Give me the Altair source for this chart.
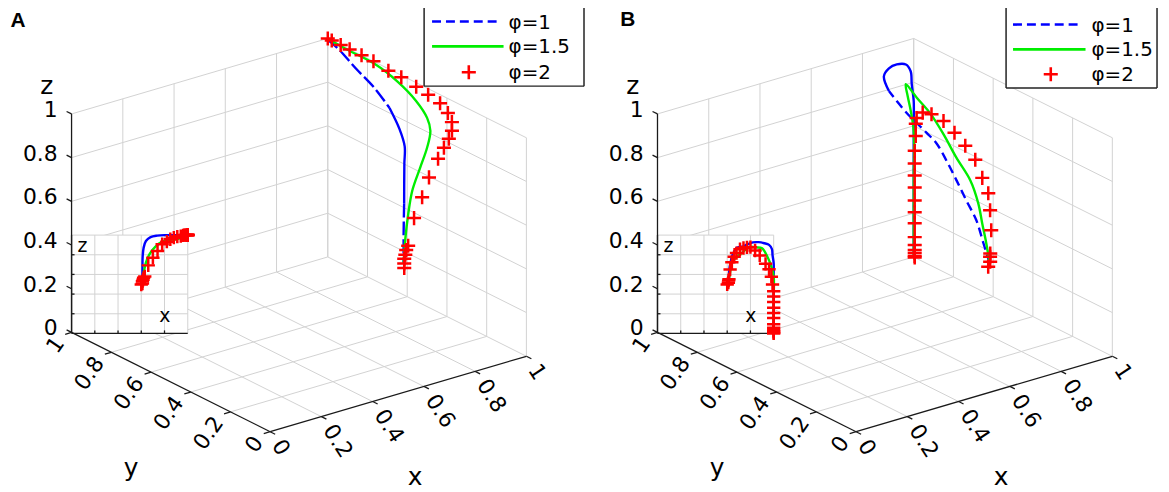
import altair as alt
import pandas as pd

# ---------------- data: 3-D trajectories (x, y, z) ----------------
SERIES = ["φ=1", "φ=1.5", "φ=2"]
TICKS = [0.0, 0.2, 0.4, 0.6, 0.8, 1.0]
TICK_LABELS = ["0", "0.2", "0.4", "0.6", "0.8", "1"]
PANELS = ["A", "B"]

A_PHI1_X = [0.995, 0.976, 0.922, 0.871, 0.81, 0.737, 0.68, 0.64, 0.62, 0.612, 0.61, 0.61]
A_PHI1_Y = [1.0, 0.918, 0.759, 0.598, 0.444, 0.30, 0.2, 0.15, 0.125, 0.115, 0.115, 0.115]
A_PHI1_Z = [1.0, 1.0, 1.0, 1.0, 1.0, 0.995, 0.98, 0.94, 0.87, 0.78, 0.65, 0.51]

A_PHI15_X = [1.0, 0.995, 0.99, 0.97, 0.94, 0.90, 0.85, 0.78, 0.72, 0.67, 0.64, 0.62, 0.61]
A_PHI15_Y = [1.0, 0.909, 0.752, 0.61, 0.478, 0.371, 0.29, 0.216, 0.174, 0.149, 0.13, 0.12, 0.115]
A_PHI15_Z = [1.0, 0.998, 1.0, 0.99, 0.972, 0.957, 0.952, 0.933, 0.88, 0.804, 0.72, 0.609, 0.51]

A_PHI2_X = [1.0, 1.0, 1.0, 1.0, 1.0, 1.0, 0.99, 0.99, 0.98, 0.97, 0.96, 0.94, 0.91,
            0.88, 0.85, 0.82, 0.78, 0.74, 0.70, 0.66, 0.63, 0.62, 0.615, 0.61, 0.61, 0.60]
A_PHI2_Y = [1.0, 0.98, 0.935, 0.89, 0.83, 0.77, 0.682, 0.617, 0.529, 0.456, 0.383, 0.318, 0.259,
            0.22, 0.197, 0.183, 0.161, 0.155, 0.138, 0.127, 0.118, 0.115, 0.113, 0.112, 0.112, 0.099]
A_PHI2_Z = [1.0, 1.0, 1.0, 1.0, 1.0, 1.0, 1.0, 1.0, 1.0, 1.0, 0.998, 0.99, 0.985,
            0.974, 0.958, 0.933, 0.907, 0.838, 0.769, 0.692, 0.58, 0.565, 0.546, 0.53, 0.508, 0.497]

B_PHI1_X = [0.61, 0.615, 0.62, 0.63, 0.64, 0.66, 0.68, 0.70, 0.72, 0.74, 0.76, 0.78,
            0.82, 0.87, 0.92, 0.96, 0.985, 0.99, 1.0, 1.0, 1.0, 1.0, 1.0]
B_PHI1_Y = [0.115, 0.153, 0.195, 0.258, 0.32, 0.396, 0.472, 0.548, 0.624, 0.70, 0.776, 0.841,
            0.918, 0.957, 0.982, 0.988, 0.996, 0.997, 1.0, 1.0, 1.0, 1.0, 1.0]
B_PHI1_Z = [0.51, 0.583, 0.666, 0.724, 0.784, 0.832, 0.87, 0.877, 0.881, 0.885, 0.899, 0.908,
            0.926, 0.928, 0.917, 0.90, 0.857, 0.796, 0.714, 0.62, 0.44, 0.26, 0.0]

B_PHI15_X = [0.61, 0.62, 0.63, 0.645, 0.68, 0.72, 0.76, 0.80, 0.85, 0.90, 0.95, 0.98, 1.0, 1.0, 1.0]
B_PHI15_Y = [0.115, 0.145, 0.178, 0.217, 0.302, 0.424, 0.54, 0.657, 0.79, 0.911, 0.966, 0.989, 1.0, 1.0, 1.0]
B_PHI15_Z = [0.51, 0.585, 0.656, 0.724, 0.778, 0.813, 0.853, 0.88, 0.875, 0.866, 0.769, 0.68, 0.577, 0.35, 0.0]

B_PHI2_X = [0.60, 0.61, 0.612, 0.615, 0.625, 0.64, 0.66, 0.68, 0.71, 0.74, 0.77, 0.80, 0.84, 0.88,
            0.93, 0.96, 0.98, 0.99, 1.0, 1.0, 1.0, 1.0, 1.0, 1.0, 1.0, 1.0, 1.0, 1.0, 1.0, 1.0]
B_PHI2_Y = [0.109, 0.112, 0.115, 0.118, 0.126, 0.151, 0.186, 0.242, 0.316, 0.405, 0.498, 0.592, 0.704, 0.80,
            0.895, 0.938, 0.964, 0.982, 0.995, 0.995, 0.995, 0.995, 0.995, 0.995, 0.995, 0.995, 0.995,
            0.995, 0.995, 0.995]
B_PHI2_Z = [0.498, 0.516, 0.537, 0.55, 0.649, 0.724, 0.779, 0.817, 0.856, 0.869, 0.876, 0.877, 0.843, 0.793,
            0.708, 0.652, 0.577, 0.498, 0.43, 0.375, 0.32, 0.261, 0.207, 0.157, 0.093, 0.057, 0.034,
            0.02, 0.007, 0.0]

TRAJ = {
    ("A", "φ=1"): (A_PHI1_X, A_PHI1_Y, A_PHI1_Z),
    ("A", "φ=1.5"): (A_PHI15_X, A_PHI15_Y, A_PHI15_Z),
    ("A", "φ=2"): (A_PHI2_X, A_PHI2_Y, A_PHI2_Z),
    ("B", "φ=1"): (B_PHI1_X, B_PHI1_Y, B_PHI1_Z),
    ("B", "φ=1.5"): (B_PHI15_X, B_PHI15_Y, B_PHI15_Z),
    ("B", "φ=2"): (B_PHI2_X, B_PHI2_Y, B_PHI2_Z),
}

# ---------------- view / layout ----------------
W, H = 1161, 482
ORIGIN = (272.0, 433.0)     # screen position of (0,0,0), panel A
EX = (258.0, -76.0)
EY = (-200.0, -100.0)
EZ = (0.0, -220.0)
SHIFT = {"A": 0.0, "B": 590.0}
INSET = (72.0, 334.0, 117.0, 99.0)   # left, bottom, width, height (panel A)
TL = 0.025
BLUE, GREEN, RED = "#0000ff", "#00ee00", "#ff0000"
GRID = "#d2d2d2"
FONT = "DejaVu Sans"
PLUS = "M-1,0L1,0M0,-1L0,1"
BLUE_SEGMENTS = {"A": [(0, 4, [14, 4]), (4, 9, None), (9, 11, [14, 4])],
                 "B": [(0, 11, [9, 5]), (11, 22, None)]}
LETTER_POS = {"A": (18, 19), "B": (632, 18)}
LEGEND = {
    "A": dict(box=(427, 4, 588, 85), lx=(435, 503), gx=507, mx=472, tx=512, rows=(20, 45, 71)),
    "B": dict(box=(1013, 5, 1165, 87), lx=(1020, 1090), gx=1093, mx=1058, tx=1099, rows=(23, 48, 73)),
}

XS = alt.Scale(domain=[8, 8 + W], nice=False, zero=False)
YS = alt.Scale(domain=[8, 8 + H], reverse=True, nice=False, zero=False)


def P(panel, x, y, z):
    return (ORIGIN[0] + SHIFT[panel] + EX[0] * x + EY[0] * y + EZ[0] * z,
            ORIGIN[1] + EX[1] * x + EY[1] * y + EZ[1] * z)


def I(panel, x, z):
    x0, y0, w, h = INSET
    return (x0 + SHIFT[panel] + w * x, y0 - h * z)


def XY():
    return dict(x=alt.X("sx:Q", scale=XS, axis=None), y=alt.Y("sy:Q", scale=YS, axis=None))


def segdf(items):
    return pd.DataFrame([{"sx": a[0], "sy": a[1], "sx2": b[0], "sy2": b[1]} for a, b in items])


def rules(items, color, width, dash=None):
    kw = dict(color=color, strokeWidth=width)
    if dash:
        kw["strokeDash"] = dash
    return alt.Chart(segdf(items)).mark_rule(**kw).encode(**XY(), x2="sx2:Q", y2="sy2:Q")


def texts(rows, **kw):
    df = pd.DataFrame(rows, columns=["sx", "sy", "t"])
    return alt.Chart(df).mark_text(font=FONT, color="black", **kw).encode(**XY(), text="t:N")


layers = []

# ---- wall & floor grid ----
grid = []
for p in PANELS:
    for t in TICKS:
        if t > 0:
            grid.append((P(p, t, 0, 0), P(p, t, 1, 0)))
            grid.append((P(p, 0, t, 0), P(p, 1, t, 0)))
            grid.append((P(p, t, 1, 0), P(p, t, 1, 1)))
            grid.append((P(p, 0, 1, t), P(p, 1, 1, t)))
            grid.append((P(p, 1, 0, t), P(p, 1, 1, t)))
        grid.append((P(p, 1, t, 0), P(p, 1, t, 1)))
layers.append(rules(grid, GRID, 1))

# ---- inset background and grid ----
ibg = []
igrid, iaxes, iticks = [], [], []
for p in PANELS:
    a, b = I(p, 0, 0), I(p, 1, 1)
    ibg.append({"sx": a[0], "sy": a[1], "sx2": b[0], "sy2": b[1]})
    for t in TICKS[1:]:
        igrid.append((I(p, t, 0), I(p, t, 1)))
        igrid.append((I(p, 0, t), I(p, 1, t)))
        if t < 1:
            bx, by = I(p, t, 0)
            iticks.append(((bx, by), (bx, by - 3)))
            lx, ly = I(p, 0, t)
            iticks.append(((lx, ly), (lx + 3, ly)))
    iaxes.append((I(p, 0, 0), I(p, 1, 0)))
    iaxes.append((I(p, 0, 0), I(p, 0, 1)))
layers.append(alt.Chart(pd.DataFrame(ibg)).mark_rect(color="white").encode(**XY(), x2="sx2:Q", y2="sy2:Q"))
layers.append(rules(igrid, GRID, 1))

# ---- main axes + ticks ----
axes, ticks = [], []
for p in PANELS:
    axes.append((P(p, 0, 1, 0), P(p, 0, 1, 1)))
    axes.append((P(p, 0, 0, 0), P(p, 0, 1, 0)))
    axes.append((P(p, 0, 0, 0), P(p, 1, 0, 0)))
    for t in TICKS:
        ticks.append((P(p, 0, 1, t), P(p, 0, 1 + TL, t)))
        ticks.append((P(p, 0, t, 0), P(p, -TL, t, 0)))
        ticks.append((P(p, t, 0, 0), P(p, t, -TL, 0)))
layers.append(rules(axes + ticks + iaxes + iticks, "#1a1a1a", 1.3))

# ---- tick labels ----
zl, yl, xl, titles, ititles = [], [], [], [], []
for p in PANELS:
    for t, lab in zip(TICKS, TICK_LABELS):
        sx, sy = P(p, 0, 1, t)
        zl.append((sx - 14, sy - 4, lab))
        sx, sy = P(p, 0, t, 0)
        yl.append((sx - 12, sy + 7, lab))
        sx, sy = P(p, t, 0, 0)
        xl.append((sx + 7, sy + 10, lab))
    sx, sy = P(p, 0, 1, 1)
    titles.append((sx - 25, sy - 20, "z"))
    sx, sy = P(p, 0, 0.5, 0)
    titles.append((sx - 40, sy + 95, "y"))
    sx, sy = P(p, 0.5, 0, 0)
    titles.append((sx + 17, sy + 92, "x"))
    sx, sy = I(p, 0, 1)
    ititles.append((sx + 11, sy + 17, "z"))
    sx, sy = I(p, 1, 0)
    ititles.append((sx - 23, sy - 11, "x"))
layers.append(texts(zl, fontSize=22, align="right", baseline="middle"))
layers.append(texts(yl, fontSize=22, align="right", baseline="middle", angle=305))
layers.append(texts(xl, fontSize=22, align="left", baseline="middle", angle=57))
layers.append(texts(titles, fontSize=25, align="center", baseline="alphabetic"))
layers.append(texts(ititles, fontSize=19, align="center", baseline="alphabetic"))


# ---- trajectories ----
def path_rows(p, s, inset, lo=None, hi=None, key=""):
    X, Y, Z = TRAJ[(p, s)]
    rows = []
    for i, (x, y, z) in enumerate(zip(X, Y, Z)):
        if lo is not None and not (lo <= i <= hi):
            continue
        sx, sy = I(p, x, z) if inset else P(p, x, y, z)
        rows.append({"sx": sx, "sy": sy, "i": i, "key": f"{p}-{s}-{inset}-{key}"})
    return rows


def line_layer(rows, color, width, dash=None):
    kw = dict(color=color, strokeWidth=width, interpolate="catmull-rom")
    if dash:
        kw["strokeDash"] = dash
    return alt.Chart(pd.DataFrame(rows)).mark_line(**kw).encode(**XY(), order="i:Q", detail="key:N")


def plus_layer(rows, size):
    return alt.Chart(pd.DataFrame(rows)).mark_point(
        shape=PLUS, filled=False, color=RED, strokeWidth=2.5, size=size, opacity=1
    ).encode(**XY())


for p in PANELS:
    # inset (x-z view)
    layers.append(line_layer(path_rows(p, "φ=1", True), BLUE, 2.4))
    layers.append(line_layer(path_rows(p, "φ=1.5", True), GREEN, 2.4))
    layers.append(plus_layer(path_rows(p, "φ=2", True), 180))
    # main 3-D view
    for k, (lo, hi, dash) in enumerate(BLUE_SEGMENTS[p]):
        layers.append(line_layer(path_rows(p, "φ=1", False, lo, hi, str(k)), BLUE, 2.4, dash))
    layers.append(line_layer(path_rows(p, "φ=1.5", False), GREEN, 2.4))
    layers.append(plus_layer(path_rows(p, "φ=2", False), 200))

# ---- legends ----
lborder, lblue, lgreen, lplus, ltext, lfill = [], [], [], [], [], []
for p in PANELS:
    L = LEGEND[p]
    x0, y0, x1, y1 = L["box"]
    lfill.append({"sx": x0, "sy": y0, "sx2": x1, "sy2": y1})
    lborder += [((x0, y0), (x1, y0)), ((x1, y0), (x1, y1)), ((x1, y1), (x0, y1)), ((x0, y1), (x0, y0))]
    r1, r2, r3 = L["rows"]
    lblue.append(((L["lx"][0], r1), (L["lx"][1], r1)))
    lgreen.append(((L["lx"][0], r2), (L["gx"], r2)))
    lplus.append({"sx": L["mx"], "sy": r3})
    for s, r in zip(SERIES, L["rows"]):
        ltext.append((L["tx"], r + 1, s))
layers.append(alt.Chart(pd.DataFrame(lfill)).mark_rect(color="white").encode(
    **XY(), x2="sx2:Q", y2="sy2:Q"))
layers.append(rules(lborder, "#222222", 1.5))
layers.append(rules(lblue, BLUE, 2.6, [9, 5]))
layers.append(rules(lgreen, GREEN, 2.8))
layers.append(alt.Chart(pd.DataFrame(lplus)).mark_point(
    shape=PLUS, filled=False, color=RED, strokeWidth=2.6, size=200, opacity=1).encode(**XY()))
layers.append(texts(ltext, fontSize=20, align="left", baseline="middle"))

# ---- panel letters ----
letters = [(LETTER_POS[p][0], LETTER_POS[p][1], p) for p in PANELS]
layers.append(alt.Chart(pd.DataFrame(letters, columns=["sx", "sy", "t"])).mark_text(
    font="Liberation Sans", fontWeight="bold", fontSize=21, align="center", baseline="middle",
    color="black").encode(**XY(), text="t:N"))

chart = alt.layer(*layers).properties(
    width=W, height=H, autosize=alt.AutoSizeParams(type="none"), padding=0
).configure_view(stroke=None)

chart.save("out.html", embed_options={"renderer": "svg", "actions": False})
